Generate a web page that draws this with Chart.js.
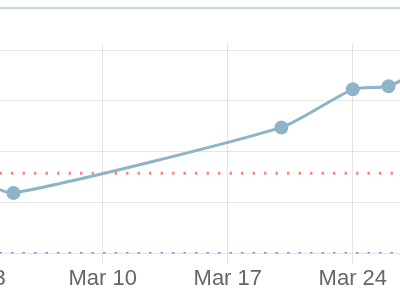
<!DOCTYPE html>
<html>
<head>
<meta charset="utf-8">
<script src="https://cdn.jsdelivr.net/npm/chart.js@4.4.1/dist/chart.umd.min.js"></script>
<style>
  html, body { margin: 0; padding: 0; width: 400px; height: 300px; overflow: hidden; background: #fff; }
  #wrap { position: absolute; left: -58px; top: 0; width: 518px; height: 300px; }
</style>
</head>
<body>
<div id="wrap"><canvas id="c"></canvas></div>
<script>
// Days of March
const days = [3, 5, 20, 24, 26, 28];
const values = [1.45, 1.19, 2.48, 3.23, 3.29, 3.65];
const tickDays = [3, 10, 17, 24];
const tickValues = [0, 1, 2, 3, 4];
const redLevel = 1.58;
const blueLevel = 0;
const xRange = [1, 30];
const yRange = [0, 4.12];

const topRule = {
  id: 'topRule',
  beforeDraw(chart) {
    const ctx = chart.ctx;
    ctx.save();
    ctx.strokeStyle = '#c3d6e6';
    ctx.lineWidth = 2;
    ctx.beginPath();
    ctx.moveTo(0, 8);
    ctx.lineTo(chart.width, 8);
    ctx.stroke();
    ctx.restore();
  }
};

new Chart(document.getElementById('c'), {
  type: 'line',
  data: {
    datasets: [
      {
        data: days.map((d, i) => ({ x: d, y: values[i] })),
        borderColor: 'rgb(141,180,200)',
        backgroundColor: 'rgb(141,180,200)',
        borderWidth: 3,
        pointRadius: 5.5,
        pointHoverRadius: 5.5,
        tension: 0.2,
        order: 0
      },
      {
        data: xRange.map(x => ({ x, y: redLevel })),
        borderColor: 'rgb(242,140,130)',
        borderWidth: 3,
        borderDash: [2.5, 9],
        pointRadius: 0,
        order: 1
      },
      {
        data: xRange.map(x => ({ x, y: blueLevel })),
        borderColor: 'rgb(130,144,214)',
        borderWidth: 3,
        borderDash: [2.5, 9],
        pointRadius: 0,
        order: 1
      }
    ]
  },
  options: {
    responsive: true,
    maintainAspectRatio: false,
    animation: false,
    layout: { autoPadding: false, padding: { top: 44, left: 0, right: 0, bottom: 6 } },
    plugins: { legend: { display: false }, tooltip: { enabled: false } },
    scales: {
      x: {
        type: 'linear',
        min: xRange[0],
        max: xRange[1],
        afterBuildTicks: s => { s.ticks = tickDays.map(v => ({ value: v })); },
        grid: { color: 'rgba(0,0,0,0.1)', tickLength: 10 },
        border: { display: false },
        ticks: {
          color: '#666',
          font: { family: 'Liberation Sans', size: 22 },
          padding: 2,
          maxRotation: 0,
          autoSkip: false,
          callback: v => 'Mar ' + v
        }
      },
      y: {
        type: 'linear',
        min: yRange[0],
        max: yRange[1],
        afterBuildTicks: s => { s.ticks = tickValues.map(v => ({ value: v })); },
        grid: { color: 'rgba(0,0,0,0.1)', drawTicks: false },
        border: { display: false },
        ticks: { display: false }
      }
    }
  },
  plugins: [topRule]
});
</script>
</body>
</html>
